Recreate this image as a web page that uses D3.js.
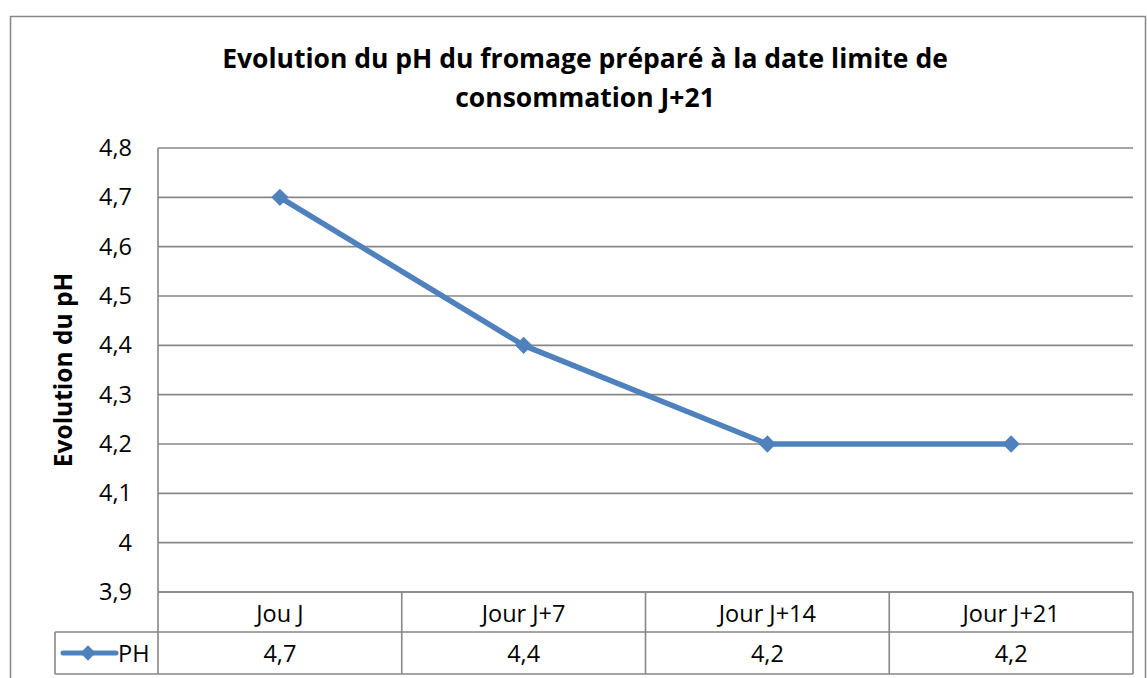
<!DOCTYPE html>
<html>
<head>
<meta charset="utf-8">
<script src="https://cdn.jsdelivr.net/npm/d3@7"></script>
<style>
  body { margin: 0; background: #fff; }
  svg { display: block; font-family: "Open Sans", "Noto Sans", sans-serif; }
</style>
</head>
<body>
<div id="chart"></div>
<script>
// data
const categories = ["Jou J", "Jour J+7", "Jour J+14", "Jour J+21"];
const phValues = [4.7, 4.4, 4.2, 4.2];
const seriesName = "PH";
const yTicks = [3.9, 4.0, 4.1, 4.2, 4.3, 4.4, 4.5, 4.6, 4.7, 4.8];
const titleLines = ["Evolution du pH du fromage préparé à la date limite de", "consommation J+21"];
const yTitle = "Evolution du pH";

const W = 1147, H = 678;
const plot = { left: 158, right: 1133, top: 148, bottom: 592 };
const rowH = [40, 42];
const legendLeft = 55;
const blue = "#4F81BD";
const grid = "#878787";
const fs = 23.5;

const fmt = v => d3.format(".1f")(v).replace(".", ",").replace(",0", "");

const svg = d3.select("#chart").append("svg")
  .attr("width", W).attr("height", H);

// outer frame
svg.append("rect")
  .attr("x", 10.5).attr("y", 16.5)
  .attr("width", 1135).attr("height", 700)
  .attr("fill", "#fff").attr("stroke", grid).attr("stroke-width", 1.5);

// title
svg.append("text")
  .attr("text-anchor", "middle")
  .attr("font-weight", "bold").attr("font-size", 26.5)
  .selectAll("tspan").data(titleLines).join("tspan")
  .attr("x", 585).attr("y", (d, i) => 68 + i * 39)
  .text(d => d);

const x = d3.scaleBand().domain(categories).range([plot.left, plot.right]);
const y = d3.scaleLinear().domain([3.9, 4.8]).range([plot.bottom, plot.top]);

// gridlines
svg.append("g").selectAll("line").data(yTicks).join("line")
  .attr("x1", plot.left).attr("x2", plot.right)
  .attr("y1", d => y(d)).attr("y2", d => y(d))
  .attr("stroke", grid).attr("stroke-width", 1.6);

// left axis line
svg.append("line")
  .attr("x1", plot.left).attr("x2", plot.left)
  .attr("y1", plot.top).attr("y2", plot.bottom + rowH[0] + rowH[1])
  .attr("stroke", grid).attr("stroke-width", 1.6);

// y tick labels
const yAxis = d3.axisLeft(y).tickValues(yTicks).tickFormat(fmt).tickSize(0).tickPadding(26);
svg.append("g").attr("transform", `translate(${plot.left},0)`).call(yAxis)
  .call(g => g.select(".domain").remove())
  .call(g => g.selectAll("text")
    .attr("font-size", fs).attr("fill", "#000")
    .attr("font-family", "'Open Sans', sans-serif"));

// y title
svg.append("text")
  .attr("transform", `translate(72,${(plot.top + plot.bottom) / 2}) rotate(-90)`)
  .attr("text-anchor", "middle")
  .attr("font-weight", "bold").attr("font-size", 24.5)
  .text(yTitle);

// data table
const tTop = plot.bottom, tMid = plot.bottom + rowH[0], tBot = tMid + rowH[1];
const tbl = svg.append("g").attr("stroke", grid).attr("stroke-width", 1.6);
[tTop, tMid, tBot].forEach((yy, i) => {
  tbl.append("line")
    .attr("x1", i === 0 ? plot.left : legendLeft).attr("x2", plot.right)
    .attr("y1", yy).attr("y2", yy);
});
tbl.append("line").attr("x1", legendLeft).attr("x2", legendLeft).attr("y1", tMid).attr("y2", tBot);
tbl.selectAll(".vl").data(categories).join("line")
  .attr("x1", d => x(d) + x.bandwidth()).attr("x2", d => x(d) + x.bandwidth())
  .attr("y1", tTop).attr("y2", tBot);

svg.append("g").selectAll("text").data(categories).join("text")
  .attr("x", d => x(d) + x.bandwidth() / 2).attr("y", tTop + 30)
  .attr("text-anchor", "middle").attr("font-size", fs)
  .text(d => d);

svg.append("g").selectAll("text").data(phValues).join("text")
  .attr("x", (d, i) => x(categories[i]) + x.bandwidth() / 2).attr("y", tMid + 30)
  .attr("text-anchor", "middle").attr("font-size", fs)
  .text(d => fmt(d));

// legend key
const diamond = d3.symbol().type(d3.symbolDiamond2);
svg.append("line")
  .attr("x1", 63).attr("x2", 116).attr("y1", tMid + 21).attr("y2", tMid + 21)
  .attr("stroke", blue).attr("stroke-width", 5).attr("stroke-linecap", "round");
svg.append("path").attr("d", diamond.size(150)())
  .attr("transform", `translate(88,${tMid + 21})`).attr("fill", blue);
svg.append("text").attr("x", 118).attr("y", tMid + 30)
  .attr("font-size", fs).text(seriesName);

// line + markers
const pts = phValues.map((v, i) => [x(categories[i]) + x.bandwidth() / 2, y(v)]);
svg.append("path").datum(pts)
  .attr("d", d3.line())
  .attr("fill", "none").attr("stroke", blue).attr("stroke-width", 5.5)
  .attr("stroke-linejoin", "round");
svg.append("g").selectAll("path").data(pts).join("path")
  .attr("d", diamond.size(190)())
  .attr("transform", d => `translate(${d[0]},${d[1]})`)
  .attr("fill", blue);
</script>
</body>
</html>
